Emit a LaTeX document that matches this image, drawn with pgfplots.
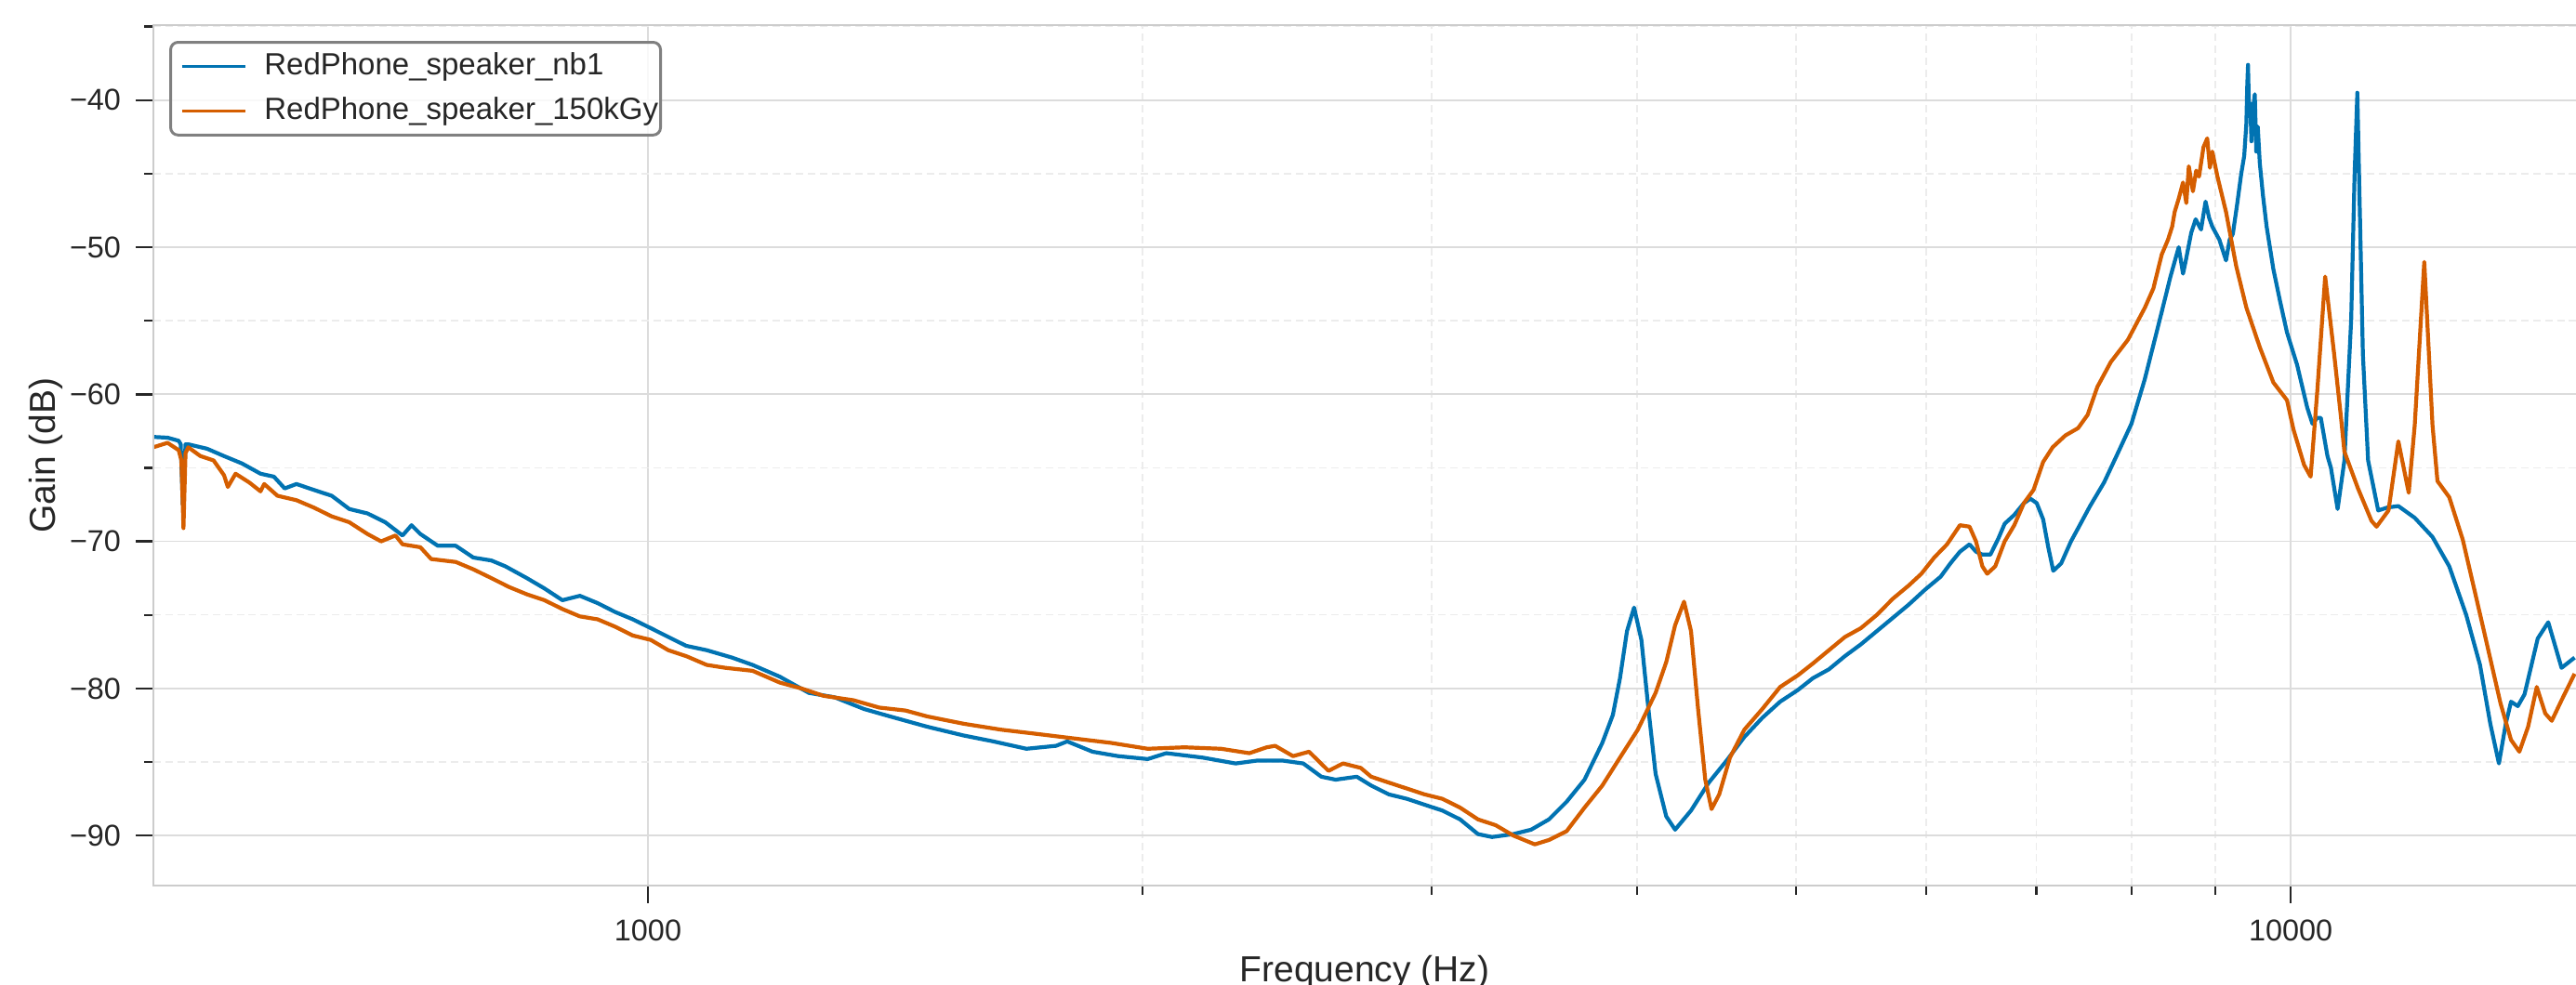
\documentclass[border=0pt]{standalone}
\usepackage{fontspec}
\setmainfont{Liberation Sans}
\usepackage{pgfplots}
\pgfplotsset{compat=1.18}
\definecolor{cbblue}{HTML}{0173B2}
\definecolor{cbred}{HTML}{D55E00}
\definecolor{inkdark}{HTML}{262626}
\definecolor{spinegray}{HTML}{CCCCCC}
\definecolor{gridmajor}{HTML}{DCDCDC}
\definecolor{gridminor}{HTML}{ECECEC}

% frequency (Hz), gain (dB)
\pgfplotstableread{
f g
500 -62.9
510 -62.95
518 -63.16
519.5 -63.4
521 -67.5
523 -63.4
525 -63.4
539 -63.7
552 -64.2
566 -64.7
581 -65.4
592 -65.6
601 -66.4
611 -66.1
626 -66.5
642 -66.9
658 -67.8
675 -68.1
692 -68.7
709 -69.6
718 -68.9
727 -69.5
745 -70.3
764 -70.3
783 -71.1
803 -71.3
819 -71.7
844 -72.5
865 -73.2
887 -74.0
909 -73.7
932 -74.2
955 -74.8
979 -75.3
1004 -75.9
1029 -76.5
1055 -77.1
1086 -77.4
1125 -77.9
1158 -78.4
1203 -79.2
1253 -80.3
1299 -80.6
1354 -81.4
1404 -81.9
1479 -82.6
1557 -83.2
1623 -83.6
1700 -84.1
1772 -83.9
1800 -83.6
1865 -84.3
1933 -84.6
2015 -84.8
2068 -84.4
2176 -84.7
2279 -85.1
2350 -84.9
2433 -84.9
2506 -85.1
2570 -86.0
2622 -86.2
2701 -86.0
2756 -86.6
2825 -87.2
2897 -87.5
2970 -87.9
3045 -88.3
3122 -88.9
3201 -89.9
3265 -90.1
3364 -89.9
3449 -89.6
3536 -88.9
3625 -87.7
3717 -86.2
3811 -83.7
3868 -81.8
3907 -79.3
3945 -76.1
3985 -74.5
4025 -76.7
4065 -81.4
4106 -85.8
4168 -88.7
4220 -89.6
4315 -88.3
4424 -86.4
4536 -84.9
4650 -83.3
4768 -82.0
4889 -80.9
5013 -80.1
5119 -79.3
5235 -78.7
5354 -77.8
5475 -77.0
5599 -76.1
5726 -75.2
5855 -74.3
5988 -73.3
6123 -72.4
6207 -71.5
6291 -70.7
6376 -70.2
6434 -70.7
6492 -70.9
6565 -70.9
6639 -69.8
6698 -68.8
6789 -68.2
6881 -67.4
6944 -67.1
7006 -67.4
7069 -68.5
7120 -70.4
7170 -72.0
7250 -71.5
7350 -70.0
7450 -68.8
7550 -67.6
7700 -66.0
7850 -64.0
8000 -62.0
8150 -59.0
8347 -54.4
8450 -52.0
8548 -50.0
8600 -51.8
8630 -51.0
8700 -49.0
8754 -48.1
8820 -48.8
8876 -46.9
8920 -48.0
8960 -48.6
9050 -49.5
9134 -50.9
9180 -49.5
9222 -49.1
9280 -47.0
9331 -45.0
9370 -43.8
9398 -41.6
9410 -39.0
9420 -37.6
9435 -41.0
9450 -40.2
9465 -42.8
9490 -40.5
9510 -39.6
9530 -43.5
9550 -41.8
9577 -44.3
9620 -46.5
9669 -48.6
9761 -51.5
9854 -53.7
9949 -55.8
10091 -58.0
10235 -60.9
10310 -62.0
10382 -61.6
10432 -61.6
10530 -64.2
10581 -65.0
10681 -67.8
10783 -64.5
10886 -54.9
10937 -45.2
10980 -39.5
11013 -46.4
11066 -57.3
11147 -64.5
11306 -67.9
11450 -67.7
11630 -67.6
11900 -68.4
12200 -69.7
12490 -71.7
12790 -75.0
13040 -78.4
13230 -82.4
13390 -85.1
13520 -82.4
13620 -80.9
13750 -81.2
13880 -80.4
14140 -76.6
14350 -75.5
14620 -78.6
14890 -77.9
}\speakerone

\pgfplotstableread{
f g
500 -63.6
510 -63.3
518 -63.8
520 -64.5
521.5 -69.1
523 -64.0
525 -63.6
534 -64.2
544 -64.5
552 -65.5
555 -66.3
561 -65.4
572 -66.0
581 -66.6
584 -66.1
595 -66.9
611 -67.2
626 -67.7
642 -68.3
658 -68.7
675 -69.5
688 -70.0
702 -69.6
709 -70.2
727 -70.4
738 -71.2
764 -71.4
783 -71.9
803 -72.5
823 -73.1
844 -73.6
865 -74.0
887 -74.6
909 -75.1
932 -75.3
955 -75.8
979 -76.4
1004 -76.7
1029 -77.4
1055 -77.8
1086 -78.4
1115 -78.6
1158 -78.8
1203 -79.6
1240 -80.0
1279 -80.5
1334 -80.8
1383 -81.3
1435 -81.5
1479 -81.9
1557 -82.4
1640 -82.8
1728 -83.1
1818 -83.4
1914 -83.7
2015 -84.1
2121 -84.0
2233 -84.1
2323 -84.4
2381 -84.0
2409 -83.9
2470 -84.6
2526 -84.3
2596 -85.6
2649 -85.1
2716 -85.4
2756 -86.0
2825 -86.4
2897 -86.8
2970 -87.2
3045 -87.5
3122 -88.1
3201 -88.9
3282 -89.3
3364 -90.0
3467 -90.6
3536 -90.3
3625 -89.7
3717 -88.1
3811 -86.6
3907 -84.7
4005 -82.8
4106 -80.3
4168 -78.2
4220 -75.7
4273 -74.1
4315 -76.1
4358 -81.4
4402 -86.2
4441 -88.2
4489 -87.2
4557 -84.7
4650 -82.8
4768 -81.4
4889 -79.9
5013 -79.1
5119 -78.3
5235 -77.4
5354 -76.5
5475 -75.9
5599 -75.0
5726 -73.9
5855 -73.0
5960 -72.2
6068 -71.1
6178 -70.2
6291 -68.9
6376 -69.0
6434 -70.0
6492 -71.7
6536 -72.2
6610 -71.7
6698 -70.0
6789 -68.9
6881 -67.4
6975 -66.5
7069 -64.6
7164 -63.6
7293 -62.8
7424 -62.3
7524 -61.4
7627 -59.5
7773 -57.8
7961 -56.3
8153 -54.1
8250 -52.8
8347 -50.5
8420 -49.5
8470 -48.6
8500 -47.6
8548 -46.7
8600 -45.6
8640 -47.0
8670 -44.5
8720 -46.2
8760 -44.8
8795 -45.2
8850 -43.2
8897 -42.6
8930 -44.6
8960 -43.5
9025 -45.2
9134 -47.6
9266 -51.3
9398 -54.1
9577 -56.8
9761 -59.2
9949 -60.4
10040 -62.4
10190 -64.8
10284 -65.6
10382 -59.7
10496 -52.0
10630 -57.3
10732 -61.6
10783 -63.9
10990 -66.4
11200 -68.6
11280 -69.0
11470 -67.9
11630 -63.2
11800 -66.7
11900 -62.1
12060 -51.0
12200 -62.1
12285 -65.9
12490 -67.0
12730 -69.9
13100 -75.9
13420 -81.0
13620 -83.5
13780 -84.3
13950 -82.6
14120 -79.9
14290 -81.7
14420 -82.2
14620 -80.8
14890 -79.0
}\speakertwo

\begin{document}
\begin{tikzpicture}
\begin{axis}[
    scale only axis,
    width=651.5pt,
    height=231.5pt,
    xmode=log,
    xmin=500, xmax=14920,
    ymin=-93.4, ymax=-34.9,
    xtick={1000,10000},
    xticklabels={1000,10000},
    ytick={-90,-80,-70,-60,-50,-40},
    yticklabels={−90,−80,−70,−60,−50,−40},
    minor ytick={-90,-85,...,-35},
    xtick pos=bottom,
    ytick pos=left,
    tick align=outside,
    major tick length=4.75pt,
    minor tick length=2.4pt,
    tick style={draw=inkdark, line width=0.6pt},
    axis line style={draw=none},
    grid=both,
    major grid style={draw=gridmajor, line width=0.45pt},
    minor grid style={draw=gridminor, line width=0.35pt, dash pattern=on 2pt off 1.2pt},
    ticklabel style={font=\fontsize{8.1}{9.7}\selectfont, text=inkdark},
    xticklabel style={yshift=-1pt},
    yticklabel style={xshift=-0.5pt},
    label style={font=\fontsize{9.75}{11.7}\selectfont, text=inkdark},
    xlabel={Frequency (Hz)},
    ylabel={Gain (dB)},
    xlabel style={at={(axis description cs:0.5,-0.1123)}, anchor=base},
    ylabel style={at={(axis description cs:-0.0445,0.5)}, anchor=center, rotate=0},
    legend style={
        at={(axis description cs:0,1)}, anchor=north west,
        xshift=4.25pt, yshift=-4.25pt,
        draw=black!50, line width=0.75pt, rounded corners=2pt,
        fill=white, fill opacity=0.8, text opacity=1,
        font=\fontsize{8.25}{9.9}\selectfont, text=inkdark,
        inner xsep=0.6pt, inner ysep=2.75pt,
        nodes={inner sep=0pt},
        row sep=4.5pt,
        /tikz/every even column/.append style={column sep=0pt},
    },
    legend cell align=left,
    legend image code/.code={
        \path[draw=none, fill=none] (-2.4pt,0pt) -- (22.2pt,0pt);
        \draw[#1, line width=0.9pt] (0pt,0pt) -- (17pt,0pt);},
    every axis plot/.append style={line width=1.05pt, line join=round},
]
\addplot[cbblue] table[x=f, y=g] {\speakerone};
\addlegendentry{RedPhone\_speaker\_nb1}
\addplot[cbred] table[x=f, y=g] {\speakertwo};
\addlegendentry{RedPhone\_speaker\_150kGy}
\end{axis}
\draw[spinegray, line width=0.7pt, line cap=rect]
    (current axis.north east) -- (current axis.north west)
    -- (current axis.south west) -- (current axis.south east);
\pgfresetboundingbox
\path[use as bounding box]
    ([shift={(-41.25pt,-26.75pt)}]current axis.south west)
    rectangle ([shift={(0pt,6.75pt)}]current axis.north east);
\end{tikzpicture}
\end{document}
